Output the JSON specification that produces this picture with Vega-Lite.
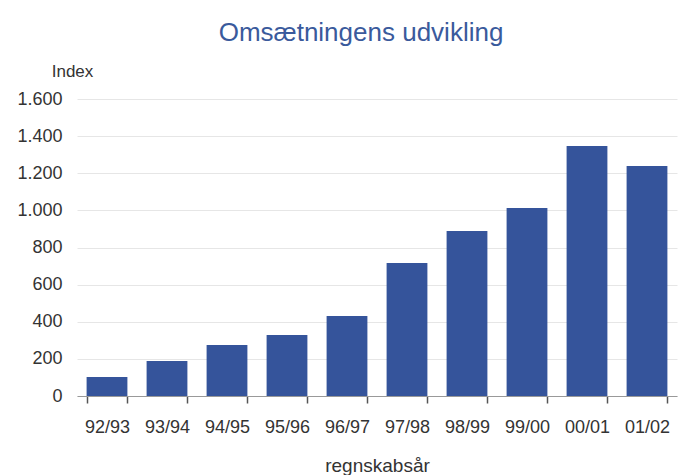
{
  "$schema": "https://vega.github.io/schema/vega-lite/v6.json",
  "width": 600,
  "height": 297,
  "autosize": "none",
  "padding": {"left": 77, "top": 99, "right": 1, "bottom": 79},
  "background": "white",
  "title": {
    "text": "Omsætningens udvikling",
    "anchor": "middle",
    "frame": "group",
    "font": "Liberation Sans",
    "fontSize": 26,
    "fontWeight": "normal",
    "color": "#3a5a9c",
    "dx": -16,
    "offset": 16
  },
  "config": {
    "locale": {"number": {"decimal": ",", "thousands": ".", "grouping": [3], "currency": ["", " kr."]}},
    "view": {"stroke": null},
    "font": "Liberation Sans"
  },
  "data": {
    "values": [
      {"year": "92/93", "index": 102},
      {"year": "93/94", "index": 189},
      {"year": "94/95", "index": 275},
      {"year": "95/96", "index": 329},
      {"year": "96/97", "index": 431},
      {"year": "97/98", "index": 717},
      {"year": "98/99", "index": 889},
      {"year": "99/00", "index": 1013},
      {"year": "00/01", "index": 1347},
      {"year": "01/02", "index": 1239}
    ]
  },
  "mark": {"type": "bar", "color": "#35549b"},
  "encoding": {
    "x": {
      "field": "year",
      "type": "nominal",
      "sort": null,
      "scale": {"paddingInner": 0.32, "paddingOuter": 0.16},
      "axis": {
        "title": "regnskabsår",
        "titleFont": "Liberation Sans",
        "titleFontSize": 19,
        "titleFontWeight": "normal",
        "titleColor": "#333333",
        "titlePadding": 20,
        "labelAngle": 0,
        "labelFontSize": 18,
        "labelColor": "#333333",
        "labelPadding": 15,
        "ticks": true,
        "tickBand": "extent",
        "tickSize": 7,
        "tickWidth": 1.5,
        "tickColor": "#555555",
        "domainColor": "#999999",
        "grid": false
      }
    },
    "y": {
      "field": "index",
      "type": "quantitative",
      "scale": {"domain": [0, 1600], "nice": false},
      "axis": {
        "values": [0, 200, 400, 600, 800, 1000, 1200, 1400, 1600],
        "format": ",d",
        "title": "Index",
        "titleAngle": 0,
        "titleAlign": "center",
        "titleBaseline": "middle",
        "titleX": -5,
        "titleY": -28,
        "titleFontSize": 17,
        "titleFontWeight": "normal",
        "titleColor": "#333333",
        "labelFontSize": 18,
        "labelColor": "#333333",
        "labelPadding": 15,
        "ticks": false,
        "domain": false,
        "grid": true,
        "gridColor": "#e6e6e6",
        "gridWidth": 1
      }
    }
  }
}
